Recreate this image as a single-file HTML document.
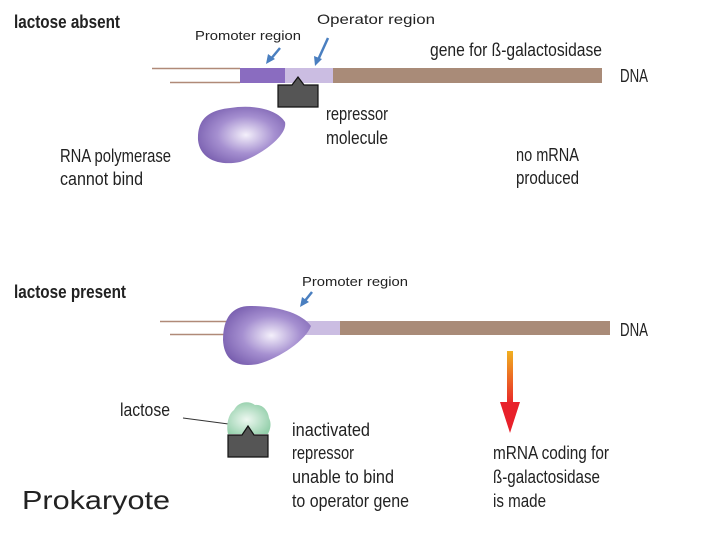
<!DOCTYPE html>
<html><head><style>body{margin:0;background:#fff}svg{display:block}</style></head><body>
<svg width="720" height="540" viewBox="0 0 720 540" xmlns="http://www.w3.org/2000/svg" font-family="Liberation Sans, sans-serif" fill="#222">
<defs>
<radialGradient id="pol" cx="0.55" cy="0.5" r="0.6"><stop offset="0" stop-color="#f4f0fb"/><stop offset="0.55" stop-color="#a58fd0"/><stop offset="1" stop-color="#7a60b0"/></radialGradient>
<radialGradient id="lac" cx="0.45" cy="0.55" r="0.6"><stop offset="0" stop-color="#eef8f1"/><stop offset="1" stop-color="#93cfaa"/></radialGradient>
<linearGradient id="arr" x1="0" y1="0" x2="0" y2="1"><stop offset="0" stop-color="#f0b020"/><stop offset="1" stop-color="#e8202a"/></linearGradient>
</defs>
<text x="14" y="28" font-size="18" font-weight="bold" textLength="106" lengthAdjust="spacingAndGlyphs">lactose absent</text>
<text x="195" y="40" font-size="13" textLength="106" lengthAdjust="spacingAndGlyphs">Promoter region</text>
<text x="317" y="24" font-size="14" textLength="118" lengthAdjust="spacingAndGlyphs">Operator region</text>
<text x="430" y="56" font-size="18" textLength="172" lengthAdjust="spacingAndGlyphs">gene for ß-galactosidase</text>
<line x1="152" y1="68.5" x2="240" y2="68.5" stroke="#b08a78" stroke-width="1.5"/>
<line x1="170" y1="82.5" x2="240" y2="82.5" stroke="#b08a78" stroke-width="1.5"/>
<rect x="240" y="68" width="45" height="15" fill="#8a6cc0"/>
<rect x="285" y="68" width="48" height="15" fill="#cbbde2"/>
<rect x="333" y="68" width="269" height="15" fill="#a98b78"/>
<text x="620" y="82" font-size="18" textLength="28" lengthAdjust="spacingAndGlyphs">DNA</text>
<path d="M278,85 L292,85 L298,77 L304,85 L318,85 L318,107 L278,107 Z" fill="#555" stroke="#111" stroke-width="1.2"/>
<path d="M280,48 L270,60" stroke="#4a7fc0" stroke-width="2.5"/><path d="M266,64 L268,54 L275,59 Z" fill="#4a7fc0"/>
<path d="M328,38 L318,60" stroke="#4a7fc0" stroke-width="2.5"/><path d="M315,66 L314,56 L322,59 Z" fill="#4a7fc0"/>
<path d="M230,108 C255,104 278,110 285,122 C288,135 262,155 240,162 C220,166 200,160 198,140 C197,118 210,110 230,108 Z" fill="url(#pol)"/>
<text x="326" y="120" font-size="18" textLength="62" lengthAdjust="spacingAndGlyphs">repressor</text>
<text x="326" y="144" font-size="18" textLength="62" lengthAdjust="spacingAndGlyphs">molecule</text>
<text x="60" y="162" font-size="18" textLength="111" lengthAdjust="spacingAndGlyphs">RNA polymerase</text>
<text x="60" y="185" font-size="18" textLength="83" lengthAdjust="spacingAndGlyphs">cannot bind</text>
<text x="516" y="161" font-size="18" textLength="63" lengthAdjust="spacingAndGlyphs">no mRNA</text>
<text x="516" y="184" font-size="18" textLength="63" lengthAdjust="spacingAndGlyphs">produced</text>
<text x="14" y="298" font-size="18" font-weight="bold" textLength="112" lengthAdjust="spacingAndGlyphs">lactose present</text>
<text x="302" y="286" font-size="13" textLength="106" lengthAdjust="spacingAndGlyphs">Promoter region</text>
<path d="M312,292 L304,302" stroke="#4a7fc0" stroke-width="2.5"/><path d="M300,307 L302,297 L309,302 Z" fill="#4a7fc0"/>
<line x1="160" y1="321.5" x2="230" y2="321.5" stroke="#b08a78" stroke-width="1.5"/>
<line x1="170" y1="334.5" x2="230" y2="334.5" stroke="#b08a78" stroke-width="1.5"/>
<rect x="300" y="321" width="40" height="14" fill="#cbbde2"/>
<rect x="340" y="321" width="270" height="14" fill="#a98b78"/>
<text x="620" y="336" font-size="18" textLength="28" lengthAdjust="spacingAndGlyphs">DNA</text>
<path d="M250,306 C280,306 302,314 311,326 C306,340 280,358 258,364 C236,368 224,360 223,340 C223,318 232,306 250,306 Z" fill="url(#pol)"/>
<text x="120" y="416" font-size="18" textLength="50" lengthAdjust="spacingAndGlyphs">lactose</text>
<line x1="183" y1="418" x2="236" y2="425" stroke="#333" stroke-width="1"/>
<path d="M234,410 C238,402 248,400 255,405 C262,404 268,410 269,418 C272,424 270,430 268,434 L228,434 C226,426 228,414 234,410 Z" fill="url(#lac)"/>
<path d="M228,435 L242,435 L248,426 L254,435 L268,435 L268,457 L228,457 Z" fill="#555" stroke="#111" stroke-width="1.2"/>
<text x="292" y="436" font-size="18" textLength="78" lengthAdjust="spacingAndGlyphs">inactivated</text>
<text x="292" y="459" font-size="18" textLength="62" lengthAdjust="spacingAndGlyphs">repressor</text>
<text x="292" y="483" font-size="18" textLength="102" lengthAdjust="spacingAndGlyphs">unable to bind</text>
<text x="292" y="507" font-size="18" textLength="117" lengthAdjust="spacingAndGlyphs">to operator gene</text>
<rect x="507" y="351" width="6" height="55" fill="url(#arr)"/>
<path d="M500,402 L520,402 L510,433 Z" fill="#e8202a"/>
<text x="493" y="459" font-size="18" textLength="116" lengthAdjust="spacingAndGlyphs">mRNA coding for</text>
<text x="493" y="483" font-size="18" textLength="107" lengthAdjust="spacingAndGlyphs">ß-galactosidase</text>
<text x="493" y="507" font-size="18" textLength="53" lengthAdjust="spacingAndGlyphs">is made</text>
<text x="22" y="509" font-size="26" textLength="148" lengthAdjust="spacingAndGlyphs">Prokaryote</text>
</svg>
</body></html>
